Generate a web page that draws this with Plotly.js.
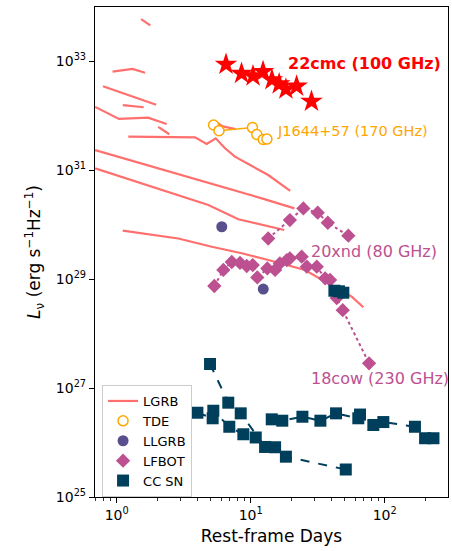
<!DOCTYPE html>
<html>
<head>
<meta charset="utf-8">
<script src="https://cdn.plot.ly/plotly-3.0.1.min.js"></script>
<style>
  html, body { margin: 0; padding: 0; background: #ffffff; }
  #chart { width: 452px; height: 551px; }
</style>
</head>
<body>
<div id="chart"></div>
<script>
// ---- Long GRB light curves (one array pair per burst) ----
const lgrb1Days = [1.52, 1.78];
const lgrb1Lum  = [6.0e33, 4.6e33];
const lgrb2Days = [0.93, 1.31, 1.63];
const lgrb2Lum  = [6.5e32, 7.3e32, 6.2e32];
const lgrb3Days = [0.79, 1.97];
const lgrb3Lum  = [3.5e32, 1.6e32];
const lgrb4Days = [1.11, 1.59];
const lgrb4Lum  = [1.58e32, 1.44e32];
const lgrb5Days = [0.69, 1.04, 1.71, 2.36];
const lgrb5Lum  = [1.46e32, 8.8e31, 9.3e31, 7.1e31];
const lgrb6Days = [2.04, 2.47];
const lgrb6Lum  = [6.3e31, 4.6e31];
const lgrb7Days = [5.3, 6.2, 7.7];
const lgrb7Lum  = [8.2e31, 6.4e31, 5.7e31];
const lgrb8Days = [1.22, 3.84, 4.69, 5.48, 6.43, 7.63, 13.5, 19.7];
const lgrb8Lum  = [4.15e31, 4.04e31, 3.04e31, 3.87e31, 2.54e31, 1.78e31, 8.2e30, 4.2e30];
const lgrb9Days = [0.69, 2.72, 6.08, 12.1, 21.2];
const lgrb9Lum  = [2.36e31, 9.0e30, 5.0e30, 3.06e30, 2.0e30];
const lgrb10Days = [0.69, 2.17, 4.83, 8.08, 17.8];
const lgrb10Lum  = [1.09e31, 4.35e30, 2.31e30, 1.26e30, 8.0e29];
const lgrb11Days = [1.11, 2.88, 5.12, 8.57, 13.5, 25.4, 37.9, 56.7, 69.2];
const lgrb11Lum  = [7.8e29, 5.6e29, 3.95e29, 3.0e29, 2.25e29, 1.48e29, 8.4e28, 4.8e28, 3.05e28];

// ---- AT2022cmc at 100 GHz ----
const cmcDays = [6.54, 8.54, 10.4, 12.36, 14.4, 16.3, 18.3, 22.0, 28.4];
const cmcLum  = [8.8e32, 6.0e32, 5.4e32, 6.5e32, 4.6e32, 3.85e32, 3.1e32, 3.5e32, 1.84e32];

// ---- Sw J1644+57 at 170 GHz ----
const tdeDays = [5.28, 5.80, 10.3, 11.1, 12.4, 13.2];
const tdeLum  = [6.8e31, 5.35e31, 6.1e31, 4.55e31, 3.7e31, 3.75e31];

// ---- Low-luminosity GRBs ----
const llgrbDays = [6.08, 12.4];
const llgrbLum  = [9.2e29, 6.6e28];

// ---- LFBOTs ----
const xndDays = [13.5, 19.6, 24.7, 31.6, 37.6, 53.5];
const xndLum  = [5.6e29, 1.22e30, 2.0e30, 1.67e30, 1.09e30, 6.3e29];
const cowDays = [5.35, 6.25, 7.22, 8.32, 9.34, 10.35, 11.2, 13.3, 15.2, 16.5,
                 18.6, 19.6, 24.0, 26.2, 31.1, 35.9, 39.1, 43.8, 48.6, 76.4];
const cowLum  = [7.5e28, 1.48e29, 2.07e29, 1.99e29, 1.75e29, 1.82e29, 1.08e29, 1.58e29, 1.48e29, 1.96e29,
                 2.25e29, 2.42e29, 2.59e29, 1.70e29, 1.70e29, 1.04e29, 9.7e28, 4.5e28, 2.7e28, 2.85e27];

// ---- Core-collapse supernovae ----
const sn1Days = [4.97, 6.80, 8.42, 12.8, 15.2];
const sn1Lum  = [2.77e27, 5.4e26, 3.44e26, 8.3e25, 8.2e25];
const sn2Days = [4.00, 5.20, 5.26, 6.92, 8.81, 10.9, 18.3, 51.2];
const sn2Lum  = [3.53e26, 2.79e26, 3.84e26, 1.95e26, 1.42e26, 1.24e26, 5.5e25, 3.2e25];
const sn3Days = [14.35, 17.2, 24.3, 33.1, 43.3, 63.5, 65.4, 82.2, 97.6, 168, 200, 231];
const sn3Lum  = [2.67e26, 2.52e26, 2.98e26, 2.52e26, 3.44e26, 2.79e26, 3.27e26, 2.10e26, 2.38e26, 1.95e26, 1.20e26, 1.20e26];
const sn4Days = [42.1, 45.5, 49.1];
const sn4Lum  = [6.15e28, 6.0e28, 5.65e28];

// ---- Axis ticks ----
const xTickVals = [1, 10, 100];
const xTickText = ['10<sup>0</sup>', '10<sup>1</sup>', '10<sup>2</sup>'];
const xMinorVals = [0.7, 0.8, 0.9, 2, 3, 4, 5, 6, 7, 8, 9, 20, 30, 40, 50, 60, 70, 80, 90, 200, 300];
const yTickVals = [1e25, 1e27, 1e29, 1e31, 1e33];
const yTickText = ['10<sup>25</sup>', '10<sup>27</sup>', '10<sup>29</sup>', '10<sup>31</sup>', '10<sup>33</sup>'];

const C_LGRB = 'rgba(255,99,97,0.92)';
const C_TDE = '#ffa600';
const C_LLGRB = '#58508d';
const C_LFBOT = '#bc5090';
const C_SN = '#003f5c';

const traces = [];

const lgrbSets = [
  [lgrb1Days, lgrb1Lum], [lgrb2Days, lgrb2Lum], [lgrb3Days, lgrb3Lum], [lgrb4Days, lgrb4Lum],
  [lgrb5Days, lgrb5Lum], [lgrb6Days, lgrb6Lum], [lgrb7Days, lgrb7Lum], [lgrb8Days, lgrb8Lum],
  [lgrb9Days, lgrb9Lum], [lgrb10Days, lgrb10Lum], [lgrb11Days, lgrb11Lum]
];
lgrbSets.forEach(function (s, i) {
  traces.push({
    x: s[0], y: s[1], type: 'scatter', mode: 'lines',
    line: { color: C_LGRB, width: 2.2 },
    name: 'LGRB', legendgroup: 'lgrb', showlegend: i === 0,
    hoverinfo: 'skip'
  });
});

// TDE curve (legend entry drawn separately as marker only)
traces.push({
  x: tdeDays, y: tdeLum, type: 'scatter', mode: 'lines+markers',
  line: { color: C_TDE, width: 1.5 },
  marker: { symbol: 'circle', size: 10, color: '#ffffff', line: { color: C_TDE, width: 1.5 } },
  showlegend: false
});
traces.push({
  x: [null], y: [null], type: 'scatter', mode: 'markers', name: 'TDE',
  marker: { symbol: 'circle', size: 10, color: '#ffffff', line: { color: C_TDE, width: 1.5 } }
});

traces.push({
  x: llgrbDays, y: llgrbLum, type: 'scatter', mode: 'markers', name: 'LLGRB',
  marker: { symbol: 'circle', size: 11, color: C_LLGRB }
});

traces.push({
  x: xndDays, y: xndLum, type: 'scatter', mode: 'lines+markers', showlegend: false,
  line: { color: C_LFBOT, width: 2, dash: 'dot' },
  marker: { symbol: 'diamond', size: 11, color: C_LFBOT }
});
traces.push({
  x: cowDays, y: cowLum, type: 'scatter', mode: 'lines+markers', showlegend: false,
  line: { color: C_LFBOT, width: 2, dash: 'dot' },
  marker: { symbol: 'diamond', size: 11, color: C_LFBOT }
});
traces.push({
  x: [null], y: [null], type: 'scatter', mode: 'markers', name: 'LFBOT',
  marker: { symbol: 'diamond', size: 11, color: C_LFBOT }
});

[[sn1Days, sn1Lum], [sn2Days, sn2Lum], [sn3Days, sn3Lum], [sn4Days, sn4Lum]].forEach(function (s) {
  traces.push({
    x: s[0], y: s[1], type: 'scatter', mode: 'lines+markers', showlegend: false,
    line: { color: C_SN, width: 2, dash: 'dash' },
    marker: { symbol: 'square', size: 12, color: C_SN }
  });
});
traces.push({
  x: [null], y: [null], type: 'scatter', mode: 'markers', name: 'CC SN',
  marker: { symbol: 'square', size: 12, color: C_SN }
});

traces.push({
  x: cmcDays, y: cmcLum, type: 'scatter', mode: 'markers', showlegend: false,
  marker: { symbol: 'star', size: 17, color: '#ff0000' }
});

const FONT = 'DejaVu Sans, sans-serif';

const layout = {
  width: 452, height: 551,
  margin: { l: 95, r: 4, t: 7, b: 54, pad: 0 },
  paper_bgcolor: '#ffffff', plot_bgcolor: '#ffffff',
  font: { family: FONT, color: '#000000' },
  showlegend: true,
  legend: {
    x: 0.02, y: 0.0, xanchor: 'left', yanchor: 'bottom',
    bgcolor: 'rgba(255,255,255,0.8)', bordercolor: '#cccccc', borderwidth: 1,
    font: { family: FONT, size: 13, color: '#000000' },
    traceorder: 'normal'
  },
  xaxis: {
    type: 'log', range: [-0.162, 2.472],
    tickmode: 'array', tickvals: xTickVals, ticktext: xTickText,
    ticks: 'outside', ticklen: 5, tickwidth: 1, tickcolor: '#000',
    minor: { tickmode: 'array', tickvals: xMinorVals, ticks: 'outside', ticklen: 3, tickwidth: 0.8, tickcolor: '#000' },
    tickfont: { family: FONT, size: 14 },
    showgrid: false, zeroline: false,
    showline: true, mirror: true, linecolor: '#000', linewidth: 1.1,
    title: { text: 'Rest-frame Days', font: { family: FONT, size: 17 }, standoff: 8 }
  },
  yaxis: {
    type: 'log', range: [25, 34],
    tickmode: 'array', tickvals: yTickVals, ticktext: yTickText,
    ticks: 'outside', ticklen: 5, tickwidth: 1, tickcolor: '#000',
    tickfont: { family: FONT, size: 14 },
    showgrid: false, zeroline: false,
    showline: true, mirror: true, linecolor: '#000', linewidth: 1.1,
    title: { text: '<i>L</i><sub>ν</sub> (erg s<sup>−1</sup>Hz<sup>−1</sup>)', font: { family: FONT, size: 17 }, standoff: 10 }
  },
  annotations: [
    { text: '<b>22cmc (100 GHz)</b>', xref: 'paper', yref: 'paper', x: 0.541, y: 0.884,
      xanchor: 'left', yanchor: 'middle', showarrow: false, font: { family: FONT, size: 16, color: '#ff0000' } },
    { text: 'J1644+57 (170 GHz)', xref: 'paper', yref: 'paper', x: 0.51, y: 0.747,
      xanchor: 'left', yanchor: 'middle', showarrow: false, font: { family: FONT, size: 14.5, color: C_TDE } },
    { text: '20xnd (80 GHz)', xref: 'paper', yref: 'paper', x: 0.607, y: 0.502,
      xanchor: 'left', yanchor: 'middle', showarrow: false, font: { family: FONT, size: 16, color: C_LFBOT } },
    { text: '18cow (230 GHz)', xref: 'paper', yref: 'paper', x: 0.607, y: 0.241,
      xanchor: 'left', yanchor: 'middle', showarrow: false, font: { family: FONT, size: 16, color: C_LFBOT } }
  ]
};

Plotly.newPlot('chart', traces, layout, { displayModeBar: false, staticPlot: true });
</script>
</body>
</html>
